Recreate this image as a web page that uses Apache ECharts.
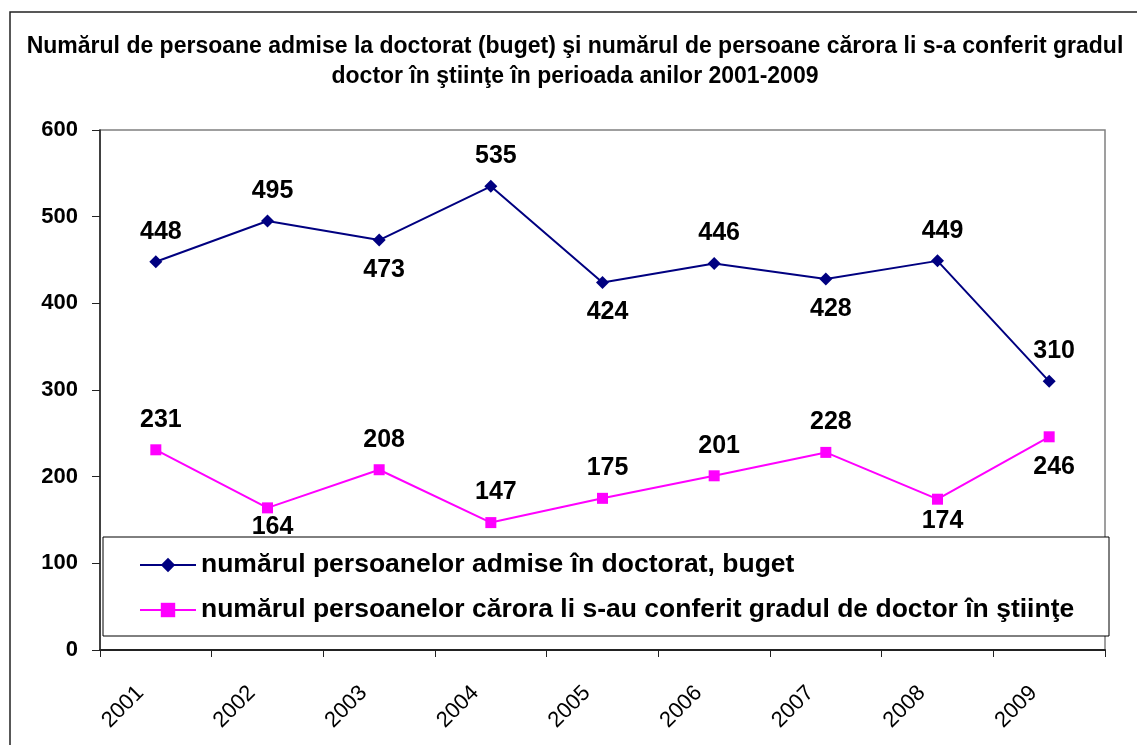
<!DOCTYPE html>
<html>
<head>
<meta charset="utf-8">
<script src="https://cdn.jsdelivr.net/npm/echarts@6/dist/echarts.min.js"></script>
<style>html,body{margin:0;padding:0;background:#fff}#c{width:1137px;height:745px}</style>
</head>
<body>
<div id="c"></div>
<script>
const years = ['2001', '2002', '2003', '2004', '2005', '2006', '2007', '2008', '2009'];
const admitted = [448, 495, 473, 535, 424, 446, 428, 449, 310];
const conferred = [231, 164, 208, 147, 175, 201, 228, 174, 246];
const admittedName = 'numărul persoanelor admise în doctorat, buget';
const conferredName = 'numărul persoanelor cărora li s-au conferit gradul de doctor în ştiinţe';
const titleText = 'Numărul de persoane admise la doctorat (buget) şi numărul de persoane cărora li s-a conferit gradul\ndoctor în ştiinţe în perioada anilor 2001-2009';

// label placement (style only)
const admittedLabelPos = ['top', 'top', 'bottom', 'top', 'bottom', 'top', 'bottom', 'top', 'top'];
const conferredLabelPos = ['top', 'bottom', 'top', 'top', 'top', 'top', 'top', 'bottom', 'bottom'];
const conferredLabelGap = [12, 1, 12, 12, 12, 12, 12, 4, 12];

const FF = '"Liberation Sans", Arial, sans-serif';
const chart = echarts.init(document.getElementById('c'), null, {renderer: 'canvas'});

const labelBase = {show: true, fontSize: 25, fontWeight: 'bold', color: '#000', fontFamily: FF, distance: 11, offset: [5, 0]};

chart.setOption({
  animation: false,
  backgroundColor: '#fff',
  title: {
    text: titleText,
    left: 575,
    textAlign: 'center',
    top: 32,
    padding: 0,
    textStyle: {fontSize: 23, fontWeight: 'bold', lineHeight: 30, color: '#000', fontFamily: FF}
  },
  grid: {left: 100, top: 130, right: 32, bottom: 95, show: true, borderColor: '#808080', borderWidth: 1.5, backgroundColor: 'transparent'},
  legend: {
    orient: 'vertical', left: 139, top: 551, padding: 0,
    itemWidth: 56, itemHeight: 18, itemGap: 17,
    textStyle: {fontSize: 26.5, fontWeight: 'bold', color: '#000', fontFamily: FF, lineHeight: 28},
    z: 10
  },
  graphic: [
    {type: 'rect', silent: true, z: -10, shape: {x: 10, y: 12, width: 1400, height: 900}, style: {fill: 'transparent', stroke: '#222', lineWidth: 1.5}},
    {type: 'rect', silent: true, z: 5, shape: {x: 103, y: 537, width: 1006, height: 99}, style: {fill: '#fff', stroke: '#000', lineWidth: 1}}
  ],
  xAxis: {
    type: 'category', data: years, boundaryGap: true,
    axisLine: {lineStyle: {color: '#222', width: 2}},
    axisTick: {show: true, length: 7, lineStyle: {color: '#222'}},
    axisLabel: {interval: 0, rotate: 45, fontSize: 22, color: '#000', fontFamily: FF, margin: 24, padding: [0, 22, 0, 0]},
    splitLine: {show: false}
  },
  yAxis: {
    type: 'value', min: 0, max: 600, interval: 100,
    axisLine: {show: true, lineStyle: {color: '#222', width: 1.5}},
    axisTick: {show: true, length: 8, lineStyle: {color: '#222'}},
    axisLabel: {fontSize: 22, fontWeight: 'bold', color: '#000', fontFamily: FF, margin: 22},
    splitLine: {show: false}
  },
  series: [
    {
      name: admittedName, type: 'line', symbol: 'diamond', symbolSize: 13,
      itemStyle: {color: '#000080'}, lineStyle: {color: '#000080', width: 2},
      label: labelBase,
      data: admitted.map((v, i) => ({value: v, label: {position: admittedLabelPos[i]}}))
    },
    {
      name: conferredName, type: 'line', symbol: 'rect', symbolSize: 11,
      itemStyle: {color: '#FF00FF'}, lineStyle: {color: '#FF00FF', width: 2},
      label: labelBase,
      data: conferred.map((v, i) => ({value: v, label: {position: conferredLabelPos[i], distance: conferredLabelGap[i]}}))
    }
  ]
});
</script>
</body>
</html>
